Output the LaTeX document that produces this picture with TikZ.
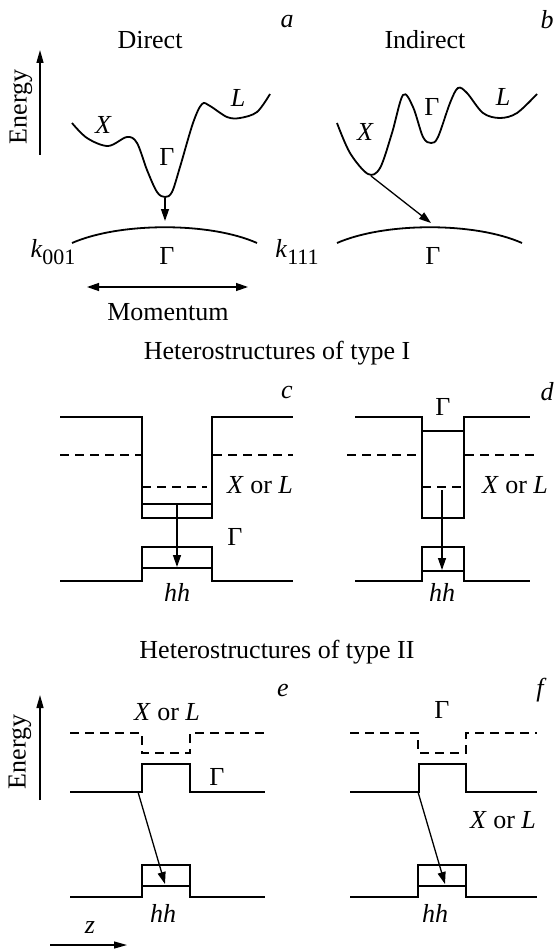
\documentclass[tikz,border=0pt]{standalone}
\usepackage{fontspec}
\setmainfont{Liberation Serif}
\usetikzlibrary{arrows.meta}
\begin{document}
\begin{tikzpicture}[x=1pt,y=-1pt,
  band/.style={line width=2pt, line join=miter},
  banddash/.style={line width=2pt, dash pattern=on 9pt off 6pt},
  trans/.style={line width=1.3pt, -{Triangle[length=12pt,width=8pt]}},
  axis/.style={line width=1.3pt, -{Triangle[length=13pt,width=7pt]}},
  lbl/.style={font=\fontsize{26}{30}\selectfont, inner sep=0pt},
  ilbl/.style={font=\fontsize{26}{30}\selectfont\itshape, inner sep=0pt}]
\useasboundingbox (0,0) rectangle (555,952);

% ---------- panel a ----------
\node[lbl] (tdirect) at (150,40) {Direct};
\node[ilbl] (la) at (287,22) {a};
\coordinate (ea0) at (40,155); \coordinate (ea1) at (40,50);
\draw[axis] (ea0) -- (ea1);
\node[lbl, rotate=90] (energy1) at (21,107) {Energy};
\draw[line width=1.8pt] plot[smooth, tension=0.55] coordinates {(72,123) (87,138) (108,146) (127,137) (137,143) (147,170) (157,192) (165,197) (172,192) (180,167) (193,123) (202,104) (210,106) (227,117) (240,118) (257,112) (270,94)};
\node[ilbl] (xa) at (103,125) {X};
\node[lbl] (ga) at (167,157) {Γ};
\node[ilbl] (lla) at (238,98) {L};
\coordinate (amin) at (165,198); \coordinate (aend) at (165,221);
\draw[trans] (amin) -- (aend);
\draw[line width=1.8pt] (72,243) .. controls (120,222) and (210,222) .. (257,243);
\node[lbl] (k001) at (53,252) {\textit{k}\raisebox{-7pt}{\fontsize{22}{22}\selectfont 001}};
\node[lbl] (k111) at (297,252) {\textit{k}\raisebox{-7pt}{\fontsize{22}{22}\selectfont 111}};
\node[lbl] (gav) at (167,256) {Γ};
\coordinate (m0) at (87,287); \coordinate (m1) at (248,287);
\draw[line width=1.3pt, {Triangle[length=12pt,width=8pt]}-{Triangle[length=12pt,width=8pt]}] (m0) -- (m1);
\node[lbl] (mom) at (168,312) {Momentum};

% ---------- panel b ----------
\node[lbl] (tindirect) at (425,40) {Indirect};
\node[ilbl] (lb) at (547,20) {b};
\draw[line width=1.8pt] plot[smooth, tension=0.55] coordinates {(337,123) (350,153) (368,174) (380,168) (392,133) (403,95) (413,107) (423,137) (431,143) (438,137) (450,103) (458,88) (467,93) (483,113) (500,118) (517,113) (537,94)};
\node[ilbl] (xb) at (365,132) {X};
\node[lbl] (gb) at (432,107) {Γ};
\node[ilbl] (llb) at (503,97) {L};
\coordinate (bmin) at (371,176); \coordinate (bend) at (431,223);
\draw[trans] (bmin) -- (bend);
\draw[line width=1.8pt] (337,243) .. controls (385,222) and (475,222) .. (522,243);
\node[lbl] (gbv) at (433,256) {Γ};

% ---------- type I ----------
\node[lbl] (type1) at (277,353) {Heterostructures of type I};

% panel c
\node[ilbl] (lc) at (287,392) {c};
\draw[band] (60,417) -- (142,417) -- (142,518) -- (212,518) -- (212,417) -- (293,417);
\draw[band] (142,504) -- (212,504);
\draw[banddash] (60,455) -- (142,455);
\draw[banddash] (213,455) -- (293,455);
\draw[banddash] (142,487) -- (207,487);
\draw[band] (60,581) -- (142,581) -- (142,547) -- (212,547) -- (212,581) -- (293,581);
\draw[band] (142,568) -- (212,568);
\node[lbl] (xlc) at (260,485) {\textit{X} or \textit{L}};
\node[lbl] (gc) at (235,537) {Γ};
\coordinate (c0) at (177,505); \coordinate (c1) at (177,567);
\draw[trans] (c0) -- (c1);
\node[ilbl] (hhc) at (177,592) {hh};

% panel d
\node[ilbl] (ld) at (547,392) {d};
\node[lbl] (gd) at (443,407) {Γ};
\draw[band] (355,417) -- (422,417) -- (422,518) -- (464,518) -- (464,417) -- (530,417);
\draw[band] (422,431) -- (464,431);
\draw[banddash] (347,455) -- (422,455);
\draw[banddash] (465,455) -- (538,455);
\draw[banddash] (422,487) -- (464,487);
\draw[band] (355,581) -- (422,581) -- (422,547) -- (464,547) -- (464,581) -- (530,581);
\draw[band] (422,571) -- (464,571);
\node[lbl] (xld) at (515,485) {\textit{X} or \textit{L}};
\coordinate (d0) at (442,490); \coordinate (d1) at (442,570);
\draw[trans] (d0) -- (d1);
\node[ilbl] (hhd) at (442,592) {hh};

% ---------- type II ----------
\node[lbl] (type2) at (277,652) {Heterostructures of type II};

% panel e
\node[ilbl] (le) at (283,690) {e};
\coordinate (eb0) at (40,800); \coordinate (eb1) at (40,695);
\draw[axis] (eb0) -- (eb1);
\node[lbl, rotate=90] (energy2) at (20,752) {Energy};
\node[lbl] (xle) at (167,712) {\textit{X} or \textit{L}};
\draw[banddash] (70,733) -- (142,733) -- (142,753) -- (190,753) -- (190,733) -- (265,733);
\draw[band] (70,792) -- (142,792) -- (142,764) -- (190,764) -- (190,792) -- (265,792);
\node[lbl] (ge) at (217,777) {Γ};
\draw[band] (70,897) -- (142,897) -- (142,865) -- (190,865) -- (190,897) -- (265,897);
\draw[band] (142,886) -- (190,886);
\coordinate (e0) at (138,792); \coordinate (e1) at (165,884);
\draw[trans] (e0) -- (e1);
\node[ilbl] (hhe) at (163,913) {hh};
\node[ilbl] (zl) at (90,928) {z};
\coordinate (z0) at (50,945); \coordinate (z1) at (127,945);
\draw[axis] (z0) -- (z1);

% panel f
\node[ilbl] (lf) at (540,690) {f};
\node[lbl] (gf) at (442,710) {Γ};
\draw[banddash] (350,733) -- (418,733) -- (418,753) -- (466,753) -- (466,733) -- (537,733);
\draw[band] (350,792) -- (419,792) -- (419,764) -- (466,764) -- (466,792) -- (537,792);
\node[lbl] (xlf) at (503,820) {\textit{X} or \textit{L}};
\draw[band] (350,897) -- (418,897) -- (418,865) -- (466,865) -- (466,897) -- (537,897);
\draw[band] (418,886) -- (466,886);
\coordinate (f0) at (418,792); \coordinate (f1) at (445,884);
\draw[trans] (f0) -- (f1);
\node[ilbl] (hhf) at (435,913) {hh};
\end{tikzpicture}
\end{document}
